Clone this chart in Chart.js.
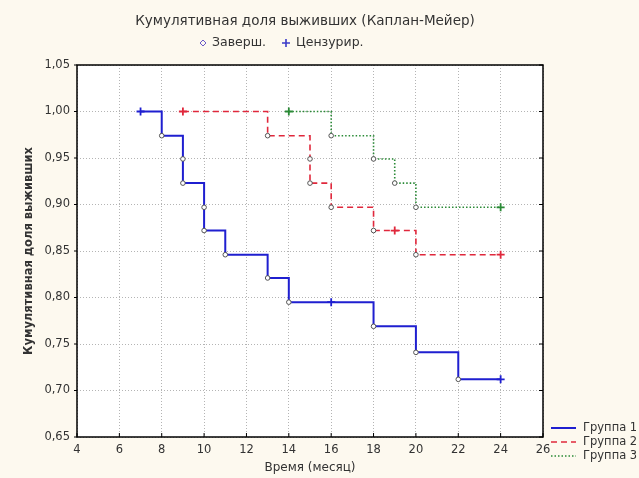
<!DOCTYPE html>
<html>
<head>
<meta charset="utf-8">
<title>Кумулятивная доля выживших</title>
<script src="https://cdn.jsdelivr.net/npm/chart.js@4.4.0/dist/chart.umd.min.js"></script>
<style>
  html, body { margin: 0; padding: 0; background: #fdf9ef; }
  #wrap { width: 639px; height: 478px; }
</style>
</head>
<body>
<div id="wrap"><canvas id="kmChart" width="639" height="478"></canvas></div>
<script>
// axes
const xTicks = [4, 6, 8, 10, 12, 14, 16, 18, 20, 22, 24, 26];
const yTicks = [0.65, 0.70, 0.75, 0.80, 0.85, 0.90, 0.95, 1.00, 1.05];

// Group 1 (1 = censored, 0 = completed)
const group1Time = [7, 8, 9, 9, 10, 10, 11, 13, 14, 16, 18, 20, 22, 24];
const group1Surv = [1.000, 0.974, 0.949, 0.923, 0.897, 0.872, 0.846, 0.821, 0.795, 0.795, 0.769, 0.741, 0.712, 0.712];
const group1Cens = [1, 0, 0, 0, 0, 0, 0, 0, 0, 1, 0, 0, 0, 1];

// Group 2
const group2Time = [9, 13, 15, 15, 16, 18, 19, 20, 24];
const group2Surv = [1.000, 0.974, 0.949, 0.923, 0.897, 0.872, 0.872, 0.846, 0.846];
const group2Cens = [1, 0, 0, 0, 0, 0, 1, 0, 1];

// Group 3
const group3Time = [14, 16, 18, 19, 20, 24];
const group3Surv = [1.000, 0.974, 0.949, 0.923, 0.897, 0.897];
const group3Cens = [1, 0, 0, 0, 0, 1];

const groupNames = ['Группа 1', 'Группа 2', 'Группа 3'];
const keyLabels = ['Заверш.', 'Цензурир.'];

const FONT = '"DejaVu Sans", Verdana, sans-serif';
const TEXT = '#333';

function toPoints(t, s) {
  return t.map((x, i) => ({ x: x, y: s[i] }));
}

function makeSet(label, t, s, cens, color, width, dash) {
  return {
    label: label,
    data: toPoints(t, s),
    stepped: true,
    borderColor: color,
    borderWidth: width,
    borderDash: dash,
    fill: false,
    pointStyle: ctx => cens[ctx.dataIndex] ? 'cross' : 'circle',
    pointRadius: ctx => cens[ctx.dataIndex] ? 4 : 2.3,
    pointBorderWidth: ctx => cens[ctx.dataIndex] ? 1.8 : 1,
    pointBorderColor: ctx => cens[ctx.dataIndex] ? color : '#555',
    pointBackgroundColor: '#fff',
    pointHoverRadius: 4
  };
}

const datasets = [
  makeSet(groupNames[0], group1Time, group1Surv, group1Cens, '#1f1fd0', 2, []),
  makeSet(groupNames[1], group2Time, group2Surv, group2Cens, '#e0283c', 1.6, [6, 4]),
  makeSet(groupNames[2], group3Time, group3Surv, group3Cens, '#2a8a36', 1.6, [1.5, 2])
];

// background, frame, title, marker key and group legend
const decor = {
  id: 'decor',
  beforeDraw(chart) {
    const { ctx, chartArea: a } = chart;
    ctx.save();
    ctx.fillStyle = '#fdf9ef';
    ctx.fillRect(0, 0, chart.width, chart.height);
    ctx.fillStyle = '#fff';
    ctx.fillRect(a.left, a.top, a.right - a.left, a.bottom - a.top);
    ctx.restore();
  },
  afterDraw(chart) {
    const { ctx, chartArea: a, scales } = chart;
    ctx.save();
    // frame
    ctx.strokeStyle = '#000';
    ctx.lineWidth = 1.5;
    ctx.strokeRect(a.left, a.top, a.right - a.left, a.bottom - a.top);
    // small inner ticks
    ctx.lineWidth = 1;
    xTicks.forEach(v => {
      const x = scales.x.getPixelForValue(v);
      ctx.beginPath(); ctx.moveTo(x, a.bottom); ctx.lineTo(x, a.bottom - 4); ctx.stroke();
    });
    yTicks.forEach(v => {
      const y = scales.y.getPixelForValue(v);
      ctx.beginPath(); ctx.moveTo(a.left - 3, y); ctx.lineTo(a.left, y); ctx.stroke();
      ctx.beginPath(); ctx.moveTo(a.right, y); ctx.lineTo(a.right - 4, y); ctx.stroke();
    });

    // title
    ctx.fillStyle = TEXT;
    ctx.font = '13.5px ' + FONT;
    ctx.textBaseline = 'middle';
    ctx.textAlign = 'center';
    ctx.fillText('Кумулятивная доля выживших (Каплан-Мейер)', 305, 21);

    // marker key
    ctx.textAlign = 'left';
    ctx.font = '12.5px ' + FONT;
    ctx.strokeStyle = '#6a5ac8';
    ctx.lineWidth = 1;
    ctx.beginPath();
    ctx.moveTo(203, 40); ctx.lineTo(206, 43); ctx.lineTo(203, 46); ctx.lineTo(200, 43); ctx.closePath();
    ctx.stroke();
    ctx.fillText(keyLabels[0], 212, 43);
    ctx.strokeStyle = '#3b3bc8';
    ctx.lineWidth = 1.6;
    ctx.beginPath();
    ctx.moveTo(286, 39); ctx.lineTo(286, 47); ctx.moveTo(282, 43); ctx.lineTo(290, 43);
    ctx.stroke();
    ctx.fillText(keyLabels[1], 296, 43);

    // group legend
    ctx.font = '11.5px ' + FONT;
    datasets.forEach((ds, i) => {
      const y = 428 + i * 14;
      ctx.strokeStyle = ds.borderColor;
      ctx.lineWidth = ds.borderWidth;
      ctx.setLineDash(ds.borderDash);
      ctx.beginPath(); ctx.moveTo(551, y); ctx.lineTo(576, y); ctx.stroke();
      ctx.setLineDash([]);
      ctx.fillStyle = TEXT;
      ctx.fillText(groupNames[i], 583, y);
    });
    ctx.restore();
  }
};

new Chart(document.getElementById('kmChart'), {
  type: 'line',
  data: { datasets: datasets },
  plugins: [decor],
  options: {
    responsive: false,
    devicePixelRatio: 1,
    animation: false,
    layout: { padding: { top: 65, right: 96, left: 0, bottom: 0 } },
    plugins: {
      legend: { display: false },
      title: { display: false },
      tooltip: { enabled: false }
    },
    scales: {
      x: {
        type: 'linear',
        min: 4,
        max: 26,
        afterBuildTicks: s => { s.ticks = xTicks.map(v => ({ value: v })); },
        afterFit: s => { s.height = 41; },
        grid: { color: '#b4b4b4', lineWidth: 1, drawTicks: false },
        border: { display: false, dash: [1, 2] },
        ticks: { color: TEXT, font: { family: FONT, size: 11.5 }, padding: 6, maxRotation: 0 },
        title: { display: true, text: 'Время (месяц)', color: TEXT, font: { family: FONT, size: 12 }, padding: { top: 0, bottom: 3 } }
      },
      y: {
        type: 'linear',
        min: 0.65,
        max: 1.05,
        afterBuildTicks: s => { s.ticks = yTicks.map(v => ({ value: v })); },
        afterFit: s => { s.width = 77; },
        grid: { color: '#b4b4b4', lineWidth: 1, drawTicks: false },
        border: { display: false, dash: [1, 2] },
        ticks: {
          color: TEXT,
          font: { family: FONT, size: 11.5 },
          padding: 7,
          callback: v => v.toFixed(2).replace('.', ',')
        },
        title: { display: true, text: 'Кумулятивная доля выживших', color: TEXT, font: { family: FONT, size: 11.5, weight: 'bold' }, padding: { top: 22, bottom: 0 } }
      }
    }
  }
});
</script>
</body>
</html>
